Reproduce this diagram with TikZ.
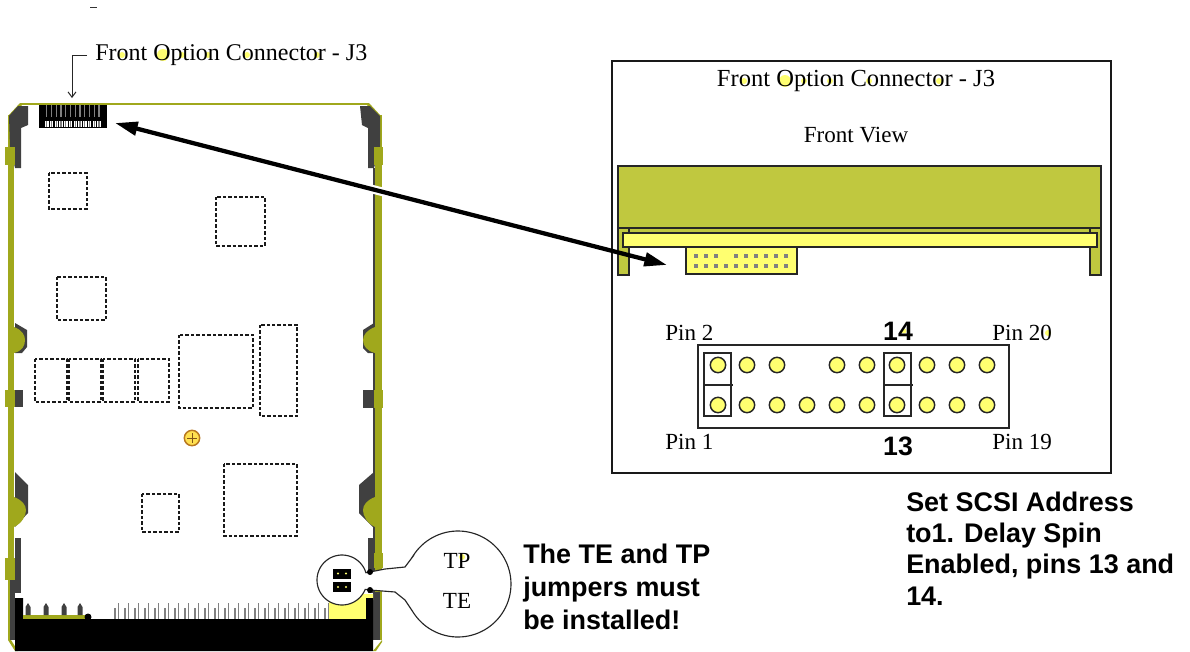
\documentclass[tikz,border=0pt]{standalone}
\usepackage{fontspec}
\setmainfont{Liberation Serif}
\setsansfont{Liberation Sans}
\usetikzlibrary{arrows.meta,calc}
\definecolor{olv}{HTML}{A0A81C}
\definecolor{panelolv}{HTML}{C0C83F}
\definecolor{dk}{HTML}{404040}
\definecolor{yel}{HTML}{FFFF70}
\definecolor{gry}{HTML}{808080}
\definecolor{scr}{HTML}{B87820}
\definecolor{scrf}{HTML}{FFE050}
\tikzset{
  dbox/.style={draw=black!90,line width=1.4pt,dash pattern=on 2.6pt off 1.5pt,fill=none},
  ser/.style={inner sep=0pt,font=\fontsize{18}{18}\selectfont},
  serW/.style={inner sep=0pt,font=\fontsize{18.4}{18}\selectfont},
  serS/.style={inner sep=0pt,font=\fontsize{17.3}{18}\selectfont},
  bld/.style={inner sep=0pt,anchor=base west,align=left,font=\sffamily\bfseries\fontsize{20.2}{20}\selectfont},
  num/.style={inner sep=0pt,font=\sffamily\bfseries\fontsize{20}{20}\selectfont},
  pinn/.style={circle,draw=black!85,fill=yel,line width=1.1pt,minimum size=11.5pt,inner sep=0pt},
  ln/.style={draw=black!85,line width=1pt},
  ydot/.style={fill=yel,draw=none},
}
\begin{document}
\begin{tikzpicture}[x=0.75pt,y=-0.75pt]
\useasboundingbox (0,0) rectangle (1190,651);
% stray dash
\draw[black!80,line width=.7pt] (90,7) -- (97,7);
% ---- drive outline
\fill[olv] (20,103) -- (369,103) -- (369,105) -- (20,105) -- cycle;
\fill[olv] (8,116) -- (20,103) -- (22,105) -- (10,117) -- cycle;
\fill[olv] (381,116) -- (369,103) -- (367,105) -- (379,117) -- cycle;
\fill[olv] (8,115) rectangle (14,640);
\fill[olv] (375,115) rectangle (382,640);
\fill[olv] (8,640) -- (15,651) -- (18,651) -- (11,640) -- cycle;
\fill[olv] (382,640) -- (373,651) -- (376,651) -- (382,642) -- cycle;
% dark corners
\fill[dk] (28,106) -- (28,125) -- (21,128) -- (21,168) -- (15,168) -- (10,147) -- (9,116) -- (18,106) -- cycle;
\fill[dk] (360,106) -- (362,125) -- (368,128) -- (368,168) -- (374,168) -- (380,147) -- (380,116) -- (370,106) -- cycle;
\fill[dk] (373,168) rectangle (375,600);
% left side
\fill[dk] (15,323) -- (27,330) -- (27,347) -- (22,353) -- (15,353) -- cycle;
\fill[dk] (15,390) rectangle (23,407);
\fill[dk] (15,472) -- (28,485) -- (28,513) -- (15,527) -- cycle;
\fill[dk] (15,538) rectangle (21,593);
\fill[dk] (9.5,580) rectangle (15,640);
% right side
\fill[dk] (374,323) -- (363,330) -- (363,348) -- (368,353) -- (374,353) -- cycle;
\fill[dk] (363,390) rectangle (374,408);
\fill[dk] (374,472) -- (359,485) -- (359,513) -- (374,528) -- cycle;
\fill[dk] (368,538) rectangle (374,593);
\fill[dk] (373,592) rectangle (380,640);
% bumps and tabs
\fill[olv] (14,327) .. controls (22,330) and (25,335) .. (25,340) .. controls (25,346) and (22,351) .. (14,353) -- cycle;
\fill[olv] (14,497) .. controls (22,500) and (26,505) .. (26,510) .. controls (26,516) and (22,523) .. (14,527) -- cycle;
\fill[olv] (375,327) .. controls (367,330) and (363,335) .. (363,340) .. controls (363,346) and (367,351) .. (375,353) -- cycle;
\fill[olv] (375,497) .. controls (367,500) and (363,505) .. (363,510) .. controls (363,516) and (367,523) .. (375,527) -- cycle;
\fill[olv] (5,147) rectangle (15,165);
\fill[olv] (5,390) rectangle (15,407);
\fill[olv] (5,558) rectangle (15,580);
\fill[olv] (374,147) rectangle (383,165);
\fill[olv] (374,390) rectangle (383,408);
\fill[olv] (374,553) rectangle (383,568);
% top connector
\fill[black] (39,105) rectangle (107,128);
\foreach \i in {0,...,11}{
  \fill[gry] ({46+\i*4.75},105) rectangle ({47.4+\i*4.75},117);
  \fill[white] ({45+\i*4.75},121) rectangle ({48.6+\i*4.75},127);
  \fill[gry] ({46.2+\i*4.75},121) rectangle ({47.4+\i*4.75},127);
}
% bent callout
\draw[black!85,line width=.75pt,-{Straight Barb[length=4pt,width=6pt]}] (87,55) -- (72,55) -- (72,98);
% dashed chips
\draw[dbox] (49,173) rectangle (87,209);
\draw[dbox] (216,197) rectangle (265,246);
\draw[dbox] (57,277) rectangle (106,320);
\draw[dbox] (35,359) rectangle (67,402);
\draw[dbox] (69,359) rectangle (101,402);
\draw[dbox] (103,359) rectangle (135,402);
\draw[dbox] (138,359) rectangle (169,402);
\draw[dbox] (179,335) rectangle (253,408);
\draw[dbox] (260,325) rectangle (297,416);
\draw[dbox] (224,464) rectangle (297,536);
\draw[dbox] (142,494) rectangle (179,532);
% screw
\node[circle,draw=scr,fill=scrf,line width=1.1pt,minimum size=11.5pt,inner sep=0pt] (screw) at (192,438) {};
\draw[scr!70!black,line width=.75pt] (187,438) -- (197,438) (192,433) -- (192,443);
% bottom black
\fill[yel] (329,600) rectangle (368,619);
\fill[yel] (358,594) -- (373,594) -- (373,600) -- (358,603) -- cycle;
\fill[black] (15,598) -- (23,598) -- (23,619) -- (366,619) -- (366,598) -- (373,598) -- (373,651) -- (15,651) -- cycle;
\fill[olv] (23,615) rectangle (87,619);
\fill[black] (88,617) circle (3.5);
\foreach \x in {28,46,64,80}{
  \fill[dk] (\x-2.5,607) -- (\x,603) -- (\x+2.5,607) -- (\x+2.5,615) -- (\x-2.5,615) -- cycle;
}
\foreach \i in {0,...,21}{
  \fill[gry] ({114+\i*10},608) rectangle ({115.8+\i*10},619);
  \fill[gry] ({117.5+\i*10},603) rectangle ({119.3+\i*10},619);
}
% long arrow
\coordinate (arrowA) at (115,123);
\coordinate (arrowB) at (667,265);
\draw[white,line width=6.5pt] ($(arrowA)!0.1!(arrowB)$) -- ($(arrowA)!0.98!(arrowB)$);
% right panel
\draw[black!90,line width=1pt] (612,61) rectangle (1111,473);
\fill[panelolv] (618,166) rectangle (1101,228);
\draw[ln,fill=panelolv] (618,166) rectangle (1101,228);
\draw[ln,fill=panelolv] (618,228) rectangle (629,275);
\draw[ln,fill=panelolv] (1090,228) rectangle (1101,275);
\draw[ln,fill=panelolv] (629,228) rectangle (1090,233);
\draw[ln,fill=yel] (623,233) rectangle (1097,247);
\draw[ln,fill=yel] (686,247) rectangle (797,274);
\foreach \x in {696,706,716,736,746,756,766,776,786}{\fill[gry] (\x-2,254) rectangle (\x+2,258);}
\foreach \x in {696,706,716,726,736,746,756,766,776,786}{\fill[gry] (\x-2,264) rectangle (\x+2,268);}
% pin panel
\draw[ln] (698,345) rectangle (1009,428);
\foreach \x in {718,747,777,837,867,897,927,957,987}{\node[pinn] at (\x,365) {};}
\foreach \x in {718,747,777,807,837,867,897,927,957,987}{\node[pinn] at (\x,405) {};}
\draw[ln] (704,353) rectangle (731,416);
\draw[ln] (704,385) -- (733,385);
\draw[ln] (884,353) rectangle (911,416);
\draw[ln] (884,385) -- (913,385);
% arrow on top
\draw[black,line width=3.2pt,{Triangle[length=17pt,width=10pt]}-{Triangle[length=17pt,width=10pt]}] (arrowA) -- (arrowB);
% yellow counters
\foreach \p/\r in {122/3,163/6,182/3,208/3,247/3,317/3}{\fill[ydot] (\p,55) circle (\r);}
\foreach \p/\r in {744/3,785/6,804/3,830/3,869/3,939/3}{\fill[ydot] (\p,81) circle (\r);}
\fill[ydot] (1048,333) circle (3);
\fill[ydot] (904,331) circle (2.5);
% labels
\node[ser,anchor=west] (t1) at (95,55) {Front Option Connector - J3};
\node[serW] (t2) at (856,81) {Front Option Connector - J3};
\node[serS] (t3) at (856,135) {Front View};
\node[serS,anchor=west] (p2) at (665,333) {Pin 2};
\node[serS,anchor=west] (p20) at (992,333) {Pin 20};
\node[serS,anchor=west] (p1) at (665,442) {Pin 1};
\node[serS,anchor=west] (p19) at (992,442) {Pin 19};
\node[num] (n14) at (898,331) {14};
\node[num] (n13) at (898,446) {13};
\node[bld] (note1) at (906,511) {Set SCSI Address};
\node[bld] (note2) at (906,542) {to1. Delay Spin};
\node[bld] (note3) at (906,573) {Enabled, pins 13 and};
\node[bld] (note4) at (906,605) {14.};
\node[bld] (te1) at (523,563) {The TE and TP};
\node[bld] (te2) at (523,596) {jumpers must};
\node[bld] (te3) at (523,629) {be installed!};
% magnifier callout
\filldraw[draw=black!85,fill=white,line width=.85pt]
  plot[domain=22:343,samples=60] ({342+25*cos(\x)},{580+25*sin(\x)})
  -- (370,572) -- (385,569) -- (405,567) -- (414,555)
  -- plot[domain=212:505,samples=80] ({458+53*cos(\x)},{584+53*sin(\x)})
  -- (405,600) -- (395,592) -- (370,590) -- cycle;
\fill[black] (370,572) circle (3) (370,590) circle (3);
\fill[black] (333,569) rectangle (351,579);
\fill[black] (333,582) rectangle (351,592);
\foreach \x in {338,346}{\fill[yel] (\x,573.5) circle (1.1); \fill[yel] (\x,587) circle (1.1);}
\fill[ydot] (462,557) circle (3);
\node[serS] (tp) at (457,561) {TP};
\node[serS] (te) at (457,601) {TE};
\end{tikzpicture}
\end{document}
